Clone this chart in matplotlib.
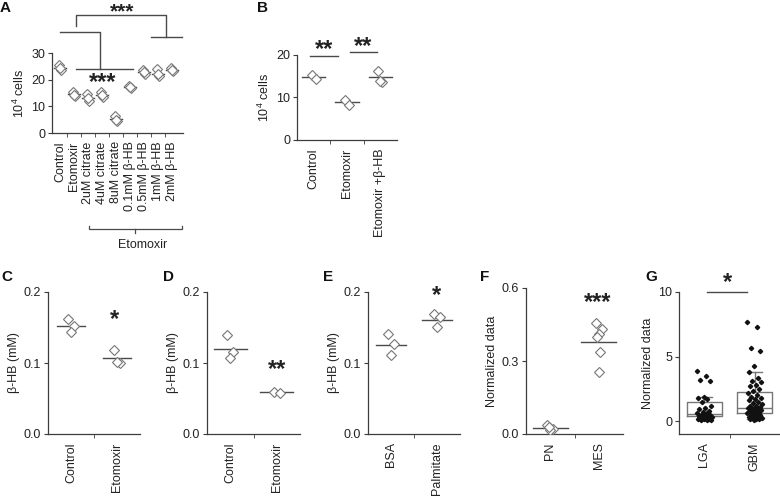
# plot.py
# Multi-panel figure: cell counts (A, B), beta-HB levels (C-E),
# normalized expression (F) and box plot with jittered points (G).

import numpy as np
import matplotlib.pyplot as plt

plt.rcParams['font.family'] = ['Liberation Sans', 'DejaVu Sans']
plt.rcParams['mathtext.fontset'] = 'custom'
plt.rcParams['mathtext.rm'] = 'Liberation Sans'
plt.rcParams['mathtext.it'] = 'Liberation Sans:italic'

W, H = 780, 498
AXIS_COLOR = "#3c3c3c"
MARK_COLOR = "#777777"
LINE_COLOR = "#4a4a4a"
TEXT_COLOR = "#222222"

# ---- data -----------------------------------------------------------------
a_labels = ["Control", "Etomoxir", "2uM citrate", "4uM citrate", "8uM citrate",
            "0.1mM β-HB", "0.5mM β-HB", "1mM β-HB", "2mM β-HB"]
a_values = [[25.5, 23.8, 24.3], [15.5, 14.0, 14.3], [14.6, 12.1, 13.0],
            [15.3, 13.6, 14.2], [6.3, 4.6, 5.0], [17.6, 16.8, 17.2],
            [23.6, 22.1, 22.8], [23.9, 21.4, 22.0], [24.3, 23.3, 23.8]]
a_means = [24.5, 14.5, 13.3, 14.4, 5.3, 17.2, 22.8, 22.3, 23.8]

b_labels = ["Control", "Etomoxir", "Etomoxir +β-HB"]
b_values = [[15.2, 14.4], [9.5, 8.3], [16.2, 13.6, 13.9]]
b_means = [14.8, 8.9, 14.8]

c_labels = ["Control", "Etomoxir"]
c_values = [[0.162, 0.152, 0.143], [0.119, 0.100, 0.102]]
c_means = [0.152, 0.107]

d_labels = ["Control", "Etomoxir"]
d_values = [[0.139, 0.116, 0.107], [0.059, 0.058]]
d_means = [0.120, 0.059]

e_labels = ["BSA", "Palmitate"]
e_values = [[0.141, 0.127, 0.111], [0.169, 0.165, 0.151]]
e_means = [0.126, 0.161]

f_labels = ["PN", "MES"]
f_values = [[0.035, 0.022, 0.015, 0.028],
            [0.458, 0.430, 0.410, 0.400, 0.336, 0.255]]
f_means = [0.025, 0.380]

g_labels = ["LGA", "GBM"]
g_lga = [3.9, 3.5, 3.2, 3.1, 1.9, 1.8, 1.7, 1.5, 1.2, 1.0, 0.9, 0.8, 0.7,
         0.6, 0.6, 0.5, 0.5, 0.45, 0.4, 0.4, 0.35, 0.3, 0.3, 0.25, 0.2,
         0.2, 0.15, 0.1, 0.1, 0.05]
g_gbm = [7.7, 7.3, 5.7, 5.4, 4.3, 3.8, 3.3, 3.1, 3.0, 2.8, 2.7, 2.5, 2.3,
         2.2, 2.0, 1.9, 1.8, 1.7, 1.6, 1.5, 1.4, 1.3, 1.2, 1.15, 1.1, 1.0,
         1.0, 0.95, 0.9, 0.85, 0.8, 0.75, 0.7, 0.65, 0.6, 0.55, 0.5, 0.45,
         0.4, 0.35, 0.3, 0.3, 0.25, 0.2, 0.2, 0.15, 0.1]
# box statistics: whisker low, Q1, median, Q3, whisker high
g_box = [[0.1, 0.4, 0.55, 1.45, 1.9], [0.15, 0.6, 1.05, 2.25, 3.8]]

fig = plt.figure(figsize=(W / 100, H / 100), dpi=100)


def px_axes(left, top, right, bottom):
    return fig.add_axes([left / W, 1 - bottom / H, (right - left) / W, (bottom - top) / H])


def style(ax, labels, ylabel, fs=9):
    n = len(labels)
    for s in ("top", "right"):
        ax.spines[s].set_visible(False)
    for s in ("left", "bottom"):
        ax.spines[s].set_color(AXIS_COLOR)
        ax.spines[s].set_linewidth(0.9)
    ax.set_xticks(range(n))
    ax.set_xticklabels(labels, rotation=90, fontsize=fs, color=TEXT_COLOR)
    ax.set_xticks(np.arange(n - 1) + 0.5, minor=True)
    ax.tick_params(axis="x", which="major", length=0, pad=6)
    ax.tick_params(axis="x", which="minor", length=3, color=AXIS_COLOR)
    ax.tick_params(axis="y", length=3, color=AXIS_COLOR, labelsize=fs,
                   labelcolor=TEXT_COLOR, pad=2)
    ax.set_ylabel(ylabel, fontsize=fs, color=TEXT_COLOR, labelpad=3)
    ax.patch.set_visible(False)


def dots(ax, values, means, half=0.33, ms=5.2):
    offsets = [-0.06, 0.06, 0.0, -0.03, 0.03, 0.0]
    for i, (vals, m) in enumerate(zip(values, means)):
        xs = [i + offsets[k] for k in range(len(vals))]
        ax.plot(xs, vals, "D", mfc="white", mec=MARK_COLOR, ms=ms, mew=0.8,
                ls="none", zorder=3)
        ax.plot([i - half, i + half], [m, m], color=LINE_COLOR, lw=1, zorder=2)


def stars(ax, x, y, s, fs=17):
    ax.text(x, y, s, ha="center", va="center", fontsize=fs, color=TEXT_COLOR,
            fontweight="bold", clip_on=False)


def bar(ax, xs, ys):
    ax.plot(xs, ys, color=LINE_COLOR, lw=1, clip_on=False)


# ---- panel A --------------------------------------------------------------
ax = px_axes(52, 53, 183, 133)
dots(ax, a_values, a_means, half=0.42, ms=4.8)
ax.set_xlim(-0.57, 8.79)
ax.set_ylim(0, 30)
ax.set_yticks([0, 10, 20, 30])
style(ax, a_labels, "10$^4$ cells")
bar(ax, [1.14, 1.14, 7.57, 7.57], [40.1, 44.3, 44.3, 36.0])
bar(ax, [6.5, 8.71], [36.0, 36.0])
bar(ax, [0.0, 2.86, 2.86], [37.9, 37.9, 24.0])
bar(ax, [1.14, 5.21], [24.0, 24.0])
stars(ax, 4.43, 45.6, "***", fs=15)
stars(ax, 3.07, 19.0, "***")

# ---- panel B --------------------------------------------------------------
ax = px_axes(297, 55, 397, 140)
dots(ax, b_values, b_means, half=0.35)
ax.set_xlim(-0.5, 2.5)
ax.set_ylim(0, 20)
ax.set_yticks([0, 10, 20])
style(ax, b_labels, "10$^4$ cells")
bar(ax, [-0.11, 0.73], [19.8, 19.8])
bar(ax, [1.09, 1.9], [20.7, 20.7])
stars(ax, 0.31, 21.2, "**")
stars(ax, 1.47, 22.1, "**")

# ---- panel C --------------------------------------------------------------
ax = px_axes(48, 292, 140, 434)
dots(ax, c_values, c_means, half=0.3)
ax.set_xlim(-0.5, 1.5)
ax.set_ylim(0, 0.2)
ax.set_yticks([0.0, 0.1, 0.2])
ax.set_yticklabels(["0.0", "0.1", "0.2"])
style(ax, c_labels, "β-HB (mM)")
stars(ax, 0.95, 0.161, "*")

# ---- panel D --------------------------------------------------------------
ax = px_axes(207, 292, 300, 434)
dots(ax, d_values, d_means, half=0.36)
ax.set_xlim(-0.5, 1.5)
ax.set_ylim(0, 0.2)
ax.set_yticks([0.0, 0.1, 0.2])
ax.set_yticklabels(["0.0", "0.1", "0.2"])
style(ax, d_labels, "β-HB (mM)")
stars(ax, 1.0, 0.091, "**")

# ---- panel E --------------------------------------------------------------
ax = px_axes(368, 292, 460, 434)
dots(ax, e_values, e_means, half=0.32)
ax.set_xlim(-0.5, 1.5)
ax.set_ylim(0, 0.2)
ax.set_yticks([0.0, 0.1, 0.2])
ax.set_yticklabels(["0.0", "0.1", "0.2"])
style(ax, e_labels, "β-HB (mM)")
stars(ax, 1.0, 0.195, "*")

# ---- panel F --------------------------------------------------------------
ax = px_axes(526, 288, 623, 434)
dots(ax, f_values, f_means, half=0.36)
ax.set_xlim(-0.5, 1.5)
ax.set_ylim(0, 0.6)
ax.set_yticks([0.0, 0.3, 0.6])
ax.set_yticklabels(["0.0", "0.3", "0.6"])
style(ax, f_labels, "Normalized data")
stars(ax, 0.98, 0.54, "***")

# ---- panel G --------------------------------------------------------------
ax = px_axes(679, 292, 780, 434)
stats = []
for lo, q1, med, q3, hi in g_box:
    stats.append(dict(whislo=lo, q1=q1, med=med, q3=q3, whishi=hi, fliers=[]))
ax.bxp(stats, positions=[0, 1], widths=0.7, showfliers=False,
       boxprops=dict(color=MARK_COLOR, lw=1),
       medianprops=dict(color=MARK_COLOR, lw=1),
       whiskerprops=dict(color=MARK_COLOR, lw=1),
       capprops=dict(color=MARK_COLOR, lw=1), capwidths=0.3)
golden = 0.618034
for i, pts in enumerate([g_lga, g_gbm]):
    jit = [((k * golden) % 1 - 0.5) * 0.3 for k in range(len(pts))]
    ax.plot([i + j for j in jit], pts, "D", color="#111111", ms=2.2,
            ls="none", zorder=4)
ax.set_xlim(-0.5, 1.5)
ax.set_ylim(-1, 10)
ax.set_yticks([0, 5, 10])
style(ax, g_labels, "Normalized data")
bar(ax, [0.06, 0.85], [10, 10])
stars(ax, 0.46, 10.7, "*")

# ---- overlay: panel letters and Etomoxir bracket --------------------------
ov = fig.add_axes([0, 0, 1, 1])
ov.set_xlim(0, W)
ov.set_ylim(H, 0)
ov.axis("off")
for letter, x, y in [("A", 5, 8), ("B", 262, 8), ("C", 7, 277), ("D", 168, 277),
                     ("E", 328, 277), ("F", 485, 277), ("G", 651, 277)]:
    ov.text(x, y, letter, ha="center", va="center", fontsize=11,
            fontweight="bold", color="#111111")
ov.plot([89, 89, 182, 182], [226, 229, 229, 226], color=LINE_COLOR, lw=0.9)
ov.plot([135, 135], [229, 233], color=LINE_COLOR, lw=0.9)
ov.text(143, 245, "Etomoxir", ha="center", va="center", fontsize=9,
        color=TEXT_COLOR)

fig.savefig("out.png", dpi=100)
